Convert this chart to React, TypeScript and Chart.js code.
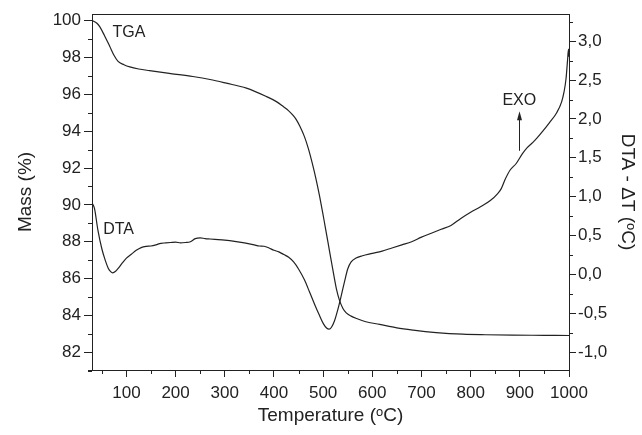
import React, { useEffect, useRef } from "react";
import { Chart, registerables } from "chart.js";

Chart.register(...registerables);

// ---- data ----
const tgaTemp = [30, 40, 46, 55, 66, 75, 83, 95, 107, 125, 147, 190, 235, 270, 303, 344, 385, 405, 419, 430, 439, 446, 453, 462, 470, 478, 486, 493, 499, 504, 510, 516, 522, 527, 533, 540, 547, 557, 568, 585, 615, 650, 683, 730, 784, 830, 886, 950, 1000];
const tgaMass = [100.0, 99.85, 99.65, 99.2, 98.6, 98.1, 97.78, 97.6, 97.48, 97.37, 97.28, 97.12, 96.96, 96.8, 96.6, 96.33, 95.87, 95.6, 95.33, 95.1, 94.85, 94.6, 94.25, 93.7, 93.05, 92.25, 91.35, 90.45, 89.6, 88.85, 87.95, 87.05, 86.15, 85.45, 84.85, 84.4, 84.15, 83.97, 83.84, 83.68, 83.52, 83.33, 83.21, 83.08, 82.99, 82.96, 82.94, 82.93, 82.92];

const dtaTemp = [30, 35, 42, 50, 57, 63, 68, 72, 78, 85, 92, 100, 110, 120, 130, 140, 150, 160, 170, 180, 190, 200, 210, 220, 230, 240, 250, 260, 270, 280, 300, 320, 340, 360, 370, 380, 390, 400, 410, 420, 430, 440, 450, 462, 472, 483, 492, 501, 507, 512, 517, 523, 530, 537, 544, 550, 557, 567, 580, 600, 620, 640, 660, 680, 700, 720, 740, 760, 780, 800, 820, 840, 855, 862, 870, 880, 893, 905, 915, 930, 945, 960, 975, 985, 990, 994, 997, 999, 1000];
const dtaDelta = [0.92, 0.85, 0.57, 0.33, 0.18, 0.08, 0.035, 0.02, 0.04, 0.09, 0.15, 0.21, 0.26, 0.31, 0.345, 0.36, 0.365, 0.38, 0.4, 0.405, 0.41, 0.415, 0.405, 0.41, 0.42, 0.46, 0.47, 0.46, 0.455, 0.45, 0.44, 0.425, 0.405, 0.38, 0.365, 0.362, 0.34, 0.31, 0.29, 0.255, 0.22, 0.16, 0.07, -0.07, -0.22, -0.39, -0.52, -0.64, -0.69, -0.705, -0.68, -0.6, -0.45, -0.27, -0.08, 0.07, 0.16, 0.21, 0.24, 0.27, 0.3, 0.34, 0.38, 0.42, 0.48, 0.53, 0.58, 0.63, 0.72, 0.8, 0.87, 0.95, 1.04, 1.1, 1.22, 1.34, 1.43, 1.55, 1.63, 1.72, 1.83, 1.95, 2.08, 2.22, 2.35, 2.52, 2.75, 2.9, 2.8];

const xTickValues = [100, 200, 300, 400, 500, 600, 700, 800, 900, 1000];
const xMinorValues = [50, 150, 250, 350, 450, 550, 650, 750, 850, 950];
const massTickValues = [82, 84, 86, 88, 90, 92, 94, 96, 98, 100];
const massMinorValues = [81, 83, 85, 87, 89, 91, 93, 95, 97, 99];
const dtaTickValues = [-1.0, -0.5, 0.0, 0.5, 1.0, 1.5, 2.0, 2.5, 3.0];
const dtaMinorValues = [-0.75, -0.25, 0.25, 0.75, 1.25, 1.75, 2.25, 2.75, 3.25];

const labelTexts = ["TGA", "DTA", "EXO"];
const labelTemps = [105, 84, 899];
const labelValues = [99.35, 0.573, 2.237];
const labelAxes = ["yL", "yR", "yR"];
const arrowTemp = 898;
const arrowFrom = 1.59;
const arrowTo = 2.1;

const INK = "#222";
const FONT = '"Liberation Sans", Arial, Helvetica, sans-serif';

const decor = {
  id: "decor",
  afterDraw(chart: any) {
    const { ctx, chartArea: a, scales } = chart;
    ctx.save();
    ctx.strokeStyle = INK;
    ctx.lineWidth = 1;
    ctx.beginPath();
    // top frame
    ctx.moveTo(a.left, Math.round(a.top) + 0.5);
    ctx.lineTo(a.right, Math.round(a.top) + 0.5);
    // bottom axis runs a little past the left frame
    ctx.moveTo(a.left - 4, Math.round(a.bottom) + 0.5);
    ctx.lineTo(a.left, Math.round(a.bottom) + 0.5);
    // minor ticks
    xMinorValues.forEach((v) => {
      const px = Math.round(scales.x.getPixelForValue(v)) + 0.5;
      ctx.moveTo(px, a.bottom);
      ctx.lineTo(px, a.bottom + 4);
    });
    massMinorValues.forEach((v) => {
      const py = Math.round(scales.yL.getPixelForValue(v)) + 0.5;
      ctx.moveTo(a.left, py);
      ctx.lineTo(a.left - 4, py);
    });
    dtaMinorValues.forEach((v) => {
      const py = Math.round(scales.yR.getPixelForValue(v)) + 0.5;
      if (py < a.top || py > a.bottom) return;
      ctx.moveTo(a.right, py);
      ctx.lineTo(a.right + 4, py);
    });
    ctx.stroke();

    // text labels
    ctx.fillStyle = INK;
    ctx.font = "16px " + FONT;
    ctx.textAlign = "center";
    ctx.textBaseline = "middle";
    labelTexts.forEach((t, i) => {
      const px = scales.x.getPixelForValue(labelTemps[i]);
      const py = scales[labelAxes[i]].getPixelForValue(labelValues[i]);
      ctx.fillText(t, px, py);
    });

    // arrow
    const ax = Math.round(scales.x.getPixelForValue(arrowTemp)) + 0.5;
    const y0 = scales.yR.getPixelForValue(arrowFrom);
    const y1 = scales.yR.getPixelForValue(arrowTo);
    ctx.beginPath();
    ctx.moveTo(ax, y0);
    ctx.lineTo(ax, y1 + 6);
    ctx.stroke();
    ctx.beginPath();
    ctx.moveTo(ax, y1);
    ctx.lineTo(ax - 2.5, y1 + 9);
    ctx.lineTo(ax + 2.5, y1 + 9);
    ctx.closePath();
    ctx.fill();
    ctx.restore();
  },
};

export default function App() {
  const ref = useRef<HTMLCanvasElement | null>(null);

  useEffect(() => {
    if (!ref.current) return;
    const tickFont = { family: FONT, size: 17 };
    const titleFont = { family: FONT, size: 19 };
    const grid = {
      drawOnChartArea: false,
      drawTicks: true,
      tickLength: 7,
      tickColor: INK,
      tickWidth: 1,
    };
    const border = { display: true, color: INK, width: 1 };

    const chart = new Chart(ref.current, {
      type: "line",
      data: {
        datasets: [
          {
            label: "TGA",
            data: tgaTemp.map((t, i) => ({ x: t, y: tgaMass[i] })),
            yAxisID: "yL",
            borderColor: INK,
            borderWidth: 1.2,
            pointRadius: 0,
            cubicInterpolationMode: "monotone",
          },
          {
            label: "DTA",
            data: dtaTemp.map((t, i) => ({ x: t, y: dtaDelta[i] })),
            yAxisID: "yR",
            borderColor: INK,
            borderWidth: 1.2,
            pointRadius: 0,
            cubicInterpolationMode: "monotone",
          },
        ],
      },
      options: {
        responsive: false,
        animation: false,
        layout: { padding: { top: 14, left: 0, right: 0, bottom: 0 } },
        plugins: { legend: { display: false }, tooltip: { enabled: false } },
        scales: {
          x: {
            type: "linear",
            position: "bottom",
            min: 30,
            max: 1000,
            afterBuildTicks: (s: any) => {
              s.ticks = xTickValues.map((v) => ({ value: v }));
            },
            afterFit: (s: any) => {
              s.height = 65;
            },
            ticks: {
              font: tickFont,
              color: INK,
              padding: 6,
              maxRotation: 0,
              autoSkip: false,
              callback: (v: any) => String(v),
            },
            grid,
            border,
            title: {
              display: true,
              text: "Temperature (ᵒC)",
              font: titleFont,
              color: INK,
              padding: { top: 0, bottom: 8 },
            },
          },
          yL: {
            type: "linear",
            position: "left",
            min: 81.05,
            max: 100.35,
            afterBuildTicks: (s: any) => {
              s.ticks = massTickValues.map((v) => ({ value: v }));
            },
            afterFit: (s: any) => {
              s.width = 92;
            },
            ticks: {
              font: tickFont,
              color: INK,
              padding: 3,
              autoSkip: false,
              callback: (v: any) => String(v),
            },
            grid: { ...grid, tickLength: 8 },
            border,
            title: {
              display: true,
              text: "Mass (%)",
              font: titleFont,
              color: INK,
              padding: { top: 14, bottom: 0 },
            },
          },
          yR: {
            type: "linear",
            position: "right",
            min: -1.23,
            max: 3.35,
            afterBuildTicks: (s: any) => {
              s.ticks = dtaTickValues.map((v) => ({ value: v }));
            },
            afterFit: (s: any) => {
              s.width = 73;
            },
            ticks: {
              font: tickFont,
              color: INK,
              padding: 2,
              autoSkip: false,
              callback: (v: any) => Number(v).toFixed(1).replace(".", ","),
            },
            grid: { ...grid, tickLength: 7 },
            border,
            title: {
              display: true,
              text: "DTA - ΔT (ᵒC)",
              font: titleFont,
              color: INK,
              padding: { top: 3, bottom: 0 },
            },
          },
        },
      },
      plugins: [decor],
    } as any);
    return () => chart.destroy();
  }, []);

  return (
    <div style={{ position: "fixed", left: 0, top: 0, width: 642, height: 435, background: "#fff" }}>
      <canvas ref={ref} width={642} height={435} />
    </div>
  );
}
